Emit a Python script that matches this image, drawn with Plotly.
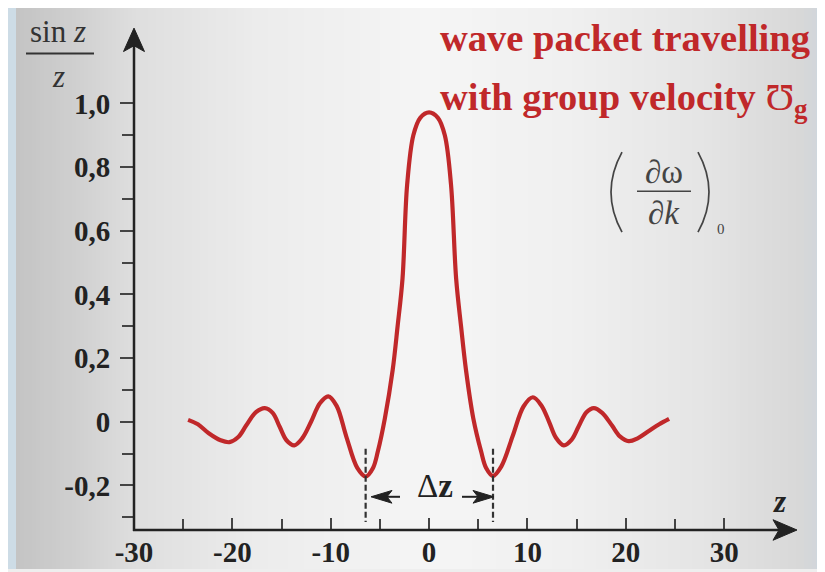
import plotly.graph_objects as go

# ---------------- data ----------------
z_vals = [-24.5, -23.5, -22.4, -21.2, -20.3, -19.4, -18.6, -17.6, -16.7, -15.9,
          -15.2, -14.5, -13.7, -12.9, -12.0, -11.1, -10.25, -9.4, -8.4, -7.3,
          -6.45, -5.7, -5.2, -4.5, -3.7, -3.2, -2.7, -2.23, -1.6, -0.9, 0.0,
          0.9, 1.6, 2.23, 2.75, 3.25, 3.75, 4.5, 5.28, 5.8, 6.5, 7.35, 8.5,
          9.6, 10.55, 11.4, 12.2, 12.9, 13.7, 14.5, 15.2, 16.0, 16.75, 17.6,
          18.6, 19.4, 20.3, 21.2, 22.3, 23.4, 24.4]
sinc_vals = [0.006, -0.008, -0.036, -0.058, -0.064, -0.048, -0.012, 0.030, 0.043, 0.028,
             -0.015, -0.058, -0.074, -0.052, 0.0, 0.058, 0.080, 0.050, -0.048, -0.145,
             -0.172, -0.145, -0.092, 0.010, 0.163, 0.300, 0.450, 0.745, 0.900, 0.955, 0.972,
             0.955, 0.900, 0.745, 0.450, 0.300, 0.163, 0.010, -0.092, -0.145, -0.170, -0.140, -0.045,
             0.048, 0.077, 0.052, 0.0, -0.050, -0.074, -0.056, -0.015, 0.030, 0.043, 0.028,
             -0.012, -0.046, -0.061, -0.052, -0.030, -0.008, 0.009]

x_tickvals = [-30, -20, -10, 0, 10, 20, 30]
x_ticktext = ["-30", "-20", "-10", "0", "10", "20", "30"]
x_minor = [-25, -15, -5, 5, 15, 25]
y_tickvals = [-0.2, 0.0, 0.2, 0.4, 0.6, 0.8, 1.0]
y_ticktext = ["-0,2", "0", "0,2", "0,4", "0,6", "0,8", "1,0"]
y_minor = [-0.3, -0.1, 0.1, 0.3, 0.5, 0.7, 0.9]

delta_z_left = -6.45
delta_z_right = 6.5

# ---------------- layout geometry ----------------
W, H = 825, 572
ML, MR, MT, MB = 126, 40, 25, 38
PW, PH = W - ML - MR, H - MT - MB
X_RANGE = [-30, -30 + PW / 9.836]
Y_RANGE = [-0.34, -0.34 + PH / 326.0]

RED = "#c0282a"
INK = "#222222"
SERIF = "Liberation Serif, Times New Roman, serif"


def px(xp):
    return (xp - ML) / PW


def py(yp):
    return (H - MB - yp) / PH


def path(points, close=True):
    s = "M " + " L ".join("%.5f,%.5f" % (px(a), py(b)) for a, b in points)
    return s + (" Z" if close else "")


fig = go.Figure()
fig.add_trace(go.Scatter(x=z_vals, y=sinc_vals, mode="lines",
                         line=dict(color=RED, width=4.2, shape="spline", smoothing=1.0),
                         hoverinfo="skip", showlegend=False))

# ---------------- background gradient ----------------
stops = [(0, (205, 220, 230)), (6, (205, 220, 230)), (10, (196, 196, 196)),
         (60, (206, 206, 206)), (125, (222, 222, 222)), (250, (236, 236, 236)),
         (420, (245, 245, 245)), (560, (240, 240, 240)), (700, (228, 228, 228)),
         (790, (216, 216, 216)), (808, (210, 214, 218)), (814, (200, 216, 226)),
         (825, (200, 216, 226))]


def col_at(x):
    for (x0, c0), (x1, c1) in zip(stops[:-1], stops[1:]):
        if x0 <= x <= x1:
            t = 0 if x1 == x0 else (x - x0) / (x1 - x0)
            return "rgb(%d,%d,%d)" % tuple(round(a + (b - a) * t) for a, b in zip(c0, c1))
    return "rgb(200,216,226)"


shapes = []
step = 4
for xs in range(0, W, step):
    shapes.append(dict(type="rect", xref="paper", yref="paper", layer="below",
                       x0=px(xs), x1=px(xs + step + 1), y0=py(H + 2), y1=py(-2),
                       fillcolor=col_at(xs + step / 2), line=dict(width=0)))

# axes lines with notched arrow heads
shapes.append(dict(type="line", xref="paper", yref="paper", x0=px(126), x1=px(126),
                   y0=py(535), y1=py(36), line=dict(color=INK, width=2.5)))
shapes.append(dict(type="path", xref="paper", yref="paper",
                   path=path([(126, 20), (136.5, 44), (126, 38), (115.5, 44)]),
                   fillcolor=INK, line=dict(color=INK, width=1)))
shapes.append(dict(type="line", xref="paper", yref="paper", x0=px(125), x1=px(772),
                   y0=py(534), y1=py(534), line=dict(color=INK, width=2.5)))
shapes.append(dict(type="path", xref="paper", yref="paper",
                   path=path([(789, 534), (765, 523.5), (771, 534), (765, 544.5)]),
                   fillcolor=INK, line=dict(color=INK, width=1)))

# fraction bar of the y label
shapes.append(dict(type="line", xref="paper", yref="paper",
                   x0=px(18), x1=px(86), y0=py(46), y1=py(46),
                   line=dict(color="#333333", width=2)))
# formula: fraction bar and thin parentheses
shapes.append(dict(type="line", xref="paper", yref="paper",
                   x0=px(629), x1=px(683), y0=py(187), y1=py(187),
                   line=dict(color="#444444", width=1.5)))
shapes.append(dict(type="path", xref="paper", yref="paper",
                   path="M %.5f,%.5f Q %.5f,%.5f %.5f,%.5f" % (px(614), py(147), px(592), py(188), px(614), py(229)),
                   line=dict(color="#444444", width=1.7)))
shapes.append(dict(type="path", xref="paper", yref="paper",
                   path="M %.5f,%.5f Q %.5f,%.5f %.5f,%.5f" % (px(690), py(147), px(712), py(188), px(690), py(229)),
                   line=dict(color="#444444", width=1.7)))
# dashed markers for the width
for xv in (delta_z_left, delta_z_right):
    shapes.append(dict(type="line", xref="x", yref="y", x0=xv, x1=xv, y0=-0.085, y1=-0.315,
                       line=dict(color="#333333", width=2.2, dash="6px,3px")))
# delta z arrows (shaft + notched head)
shapes.append(dict(type="line", xref="paper", yref="paper", x0=px(376), x1=px(392),
                   y0=py(500), y1=py(500), line=dict(color=INK, width=2)))
shapes.append(dict(type="path", xref="paper", yref="paper",
                   path=path([(363, 500), (384, 493.5), (379, 500), (384, 506.5)]),
                   fillcolor=INK, line=dict(color=INK, width=1)))
shapes.append(dict(type="line", xref="paper", yref="paper", x0=px(454), x1=px(472),
                   y0=py(500), y1=py(500), line=dict(color=INK, width=2)))
shapes.append(dict(type="path", xref="paper", yref="paper",
                   path=path([(486, 500), (465, 493.5), (470, 500), (465, 506.5)]),
                   fillcolor=INK, line=dict(color=INK, width=1)))

ann = []
ann.append(dict(x=px(427), y=py(489), xref="paper", yref="paper", text="Δ<b>z</b>",
                showarrow=False, font=dict(family=SERIF, size=33, color=INK),
                xanchor="center", yanchor="middle"))

# axis titles
ann.append(dict(x=px(771), y=py(505), xref="paper", yref="paper", text="<b><i>z</i></b>",
                showarrow=False, font=dict(family=SERIF, size=31, color=INK),
                xanchor="center", yanchor="middle"))
ann.append(dict(x=px(50), y=py(23), xref="paper", yref="paper", text="sin <i>z</i>",
                showarrow=False, font=dict(family=SERIF, size=31, color="#333333"),
                xanchor="center", yanchor="middle"))
ann.append(dict(x=px(50), y=py(70), xref="paper", yref="paper", text="<i>z</i>",
                showarrow=False, font=dict(family=SERIF, size=31, color="#333333"),
                xanchor="center", yanchor="middle"))

# red title text
ann.append(dict(x=px(430), y=py(30), xref="paper", yref="paper", text="<b>wave packet travelling</b>",
                showarrow=False, font=dict(family=SERIF, size=38.5, color=RED),
                xanchor="left", yanchor="middle"))
ann.append(dict(x=px(430), y=py(94), xref="paper", yref="paper",
                text="<b>with group velocity </b>Ʊ<sub><b>g</b></sub>",
                showarrow=False, font=dict(family=SERIF, size=38.5, color=RED),
                xanchor="left", yanchor="middle"))

# formula (dω/dk)_0
ann.append(dict(x=px(656), y=py(167), xref="paper", yref="paper", text="∂ω",
                showarrow=False, font=dict(family=SERIF, size=33, color="#444444"),
                xanchor="center", yanchor="middle"))
ann.append(dict(x=px(656), y=py(209), xref="paper", yref="paper", text="∂<i>k</i>",
                showarrow=False, font=dict(family=SERIF, size=33, color="#444444"),
                xanchor="center", yanchor="middle"))
ann.append(dict(x=px(713), y=py(226), xref="paper", yref="paper", text="0",
                showarrow=False, font=dict(family=SERIF, size=15, color="#444444"),
                xanchor="center", yanchor="middle"))

tickfont = dict(family=SERIF, size=29, color=INK, weight="bold")
fig.update_layout(
    width=W, height=H,
    margin=dict(l=ML, r=MR, t=MT, b=MB, pad=0),
    paper_bgcolor="#eeeeee", plot_bgcolor="rgba(0,0,0,0)",
    shapes=shapes, annotations=ann, showlegend=False,
    xaxis=dict(range=X_RANGE, showgrid=False, zeroline=False, showline=False,
               tickvals=x_tickvals, ticktext=x_ticktext, ticks="inside", ticklen=12,
               tickwidth=1.5, tickcolor="#444444", tickfont=tickfont, ticklabelstandoff=2,
               minor=dict(tickvals=x_minor, ticks="inside", ticklen=11, tickwidth=1.5,
                          tickcolor="#444444", showgrid=False)),
    yaxis=dict(range=Y_RANGE, showgrid=False, zeroline=False, showline=False,
               tickvals=y_tickvals, ticktext=y_ticktext, ticks="outside", ticklen=13,
               tickwidth=1.5, tickcolor="#444444", tickfont=tickfont, ticklabelstandoff=4,
               minor=dict(tickvals=y_minor, ticks="outside", ticklen=11, tickwidth=1.5,
                          tickcolor="#444444", showgrid=False)),
)

fig.write_html("out.html")
